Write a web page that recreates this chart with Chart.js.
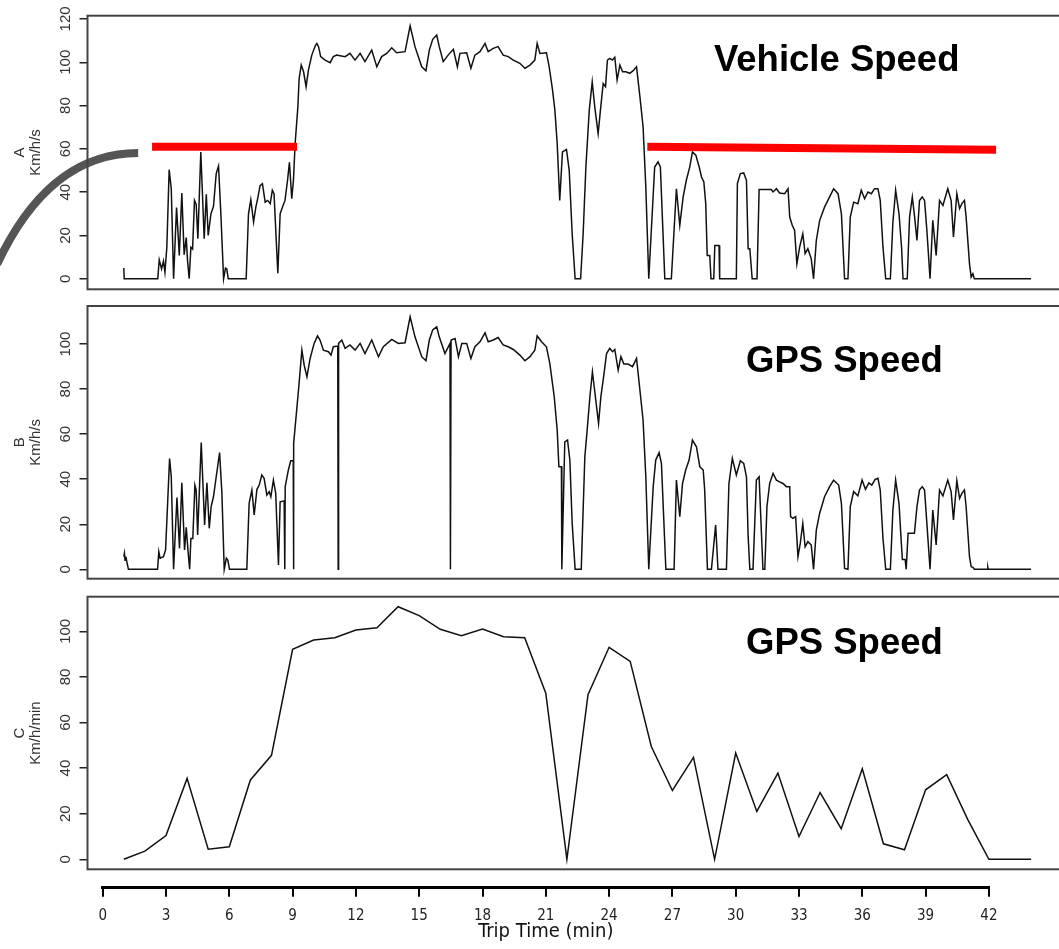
<!DOCTYPE html>
<html>
<head>
<meta charset="utf-8">
<title>Trip speed</title>
<script src="https://cdn.jsdelivr.net/npm/chart.js@4.4.1/dist/chart.umd.min.js"></script>
<style>
  html, body { margin: 0; padding: 0; background: #fff; overflow: hidden; width: 1059px; height: 949px; }
  canvas { position: absolute; left: 0; }
</style>
</head>
<body>
<canvas id="speedA" width="1080" height="310" style="top:0px"></canvas>
<canvas id="speedB" width="1080" height="315" style="top:285px"></canvas>
<canvas id="speedC" width="1080" height="315" style="top:575px"></canvas>
<canvas id="timeAxis" width="1080" height="79" style="top:870px"></canvas>
<script>
// A: vehicle speed, per second (minutes, km/h)
const vehicleTime = [
  1.00, 1.02, 2.61, 2.68, 2.79, 2.88, 2.95, 3.04, 3.15, 3.25, 3.36, 3.50, 3.63, 3.75, 3.86, 3.96, 4.02, 4.10,
  4.18, 4.26, 4.35, 4.43, 4.51, 4.65, 4.81, 4.91, 5.00, 5.13, 5.25, 5.38, 5.49, 5.60, 5.73, 5.82, 5.88, 5.95,
  6.80, 6.91, 7.02, 7.15, 7.26, 7.34, 7.46, 7.57, 7.70, 7.82, 7.94, 8.04, 8.12, 8.30, 8.41, 8.53, 8.64, 8.76,
  8.85, 8.96, 9.04, 9.12, 9.25, 9.31, 9.41, 9.52, 9.64, 9.75, 9.91, 10.07, 10.15, 10.23, 10.33, 10.54, 10.78,
  10.93, 11.09, 11.25, 11.49, 11.72, 11.96, 12.20, 12.43, 12.75, 12.99, 13.22, 13.46, 13.70, 13.93, 14.33,
  14.57, 14.80, 15.12, 15.32, 15.48, 15.64, 15.83, 15.95, 16.14, 16.37, 16.62, 16.81, 16.93, 17.25, 17.45,
  17.64, 17.88, 18.12, 18.27, 18.51, 18.74, 18.98, 19.22, 19.46, 19.77, 20.01, 20.25, 20.48, 20.59, 20.72,
  21.03, 21.16, 21.32, 21.43, 21.54, 21.66, 21.79, 21.98, 22.11, 22.25, 22.39, 22.65, 22.77, 22.90, 23.06,
  23.20, 23.32, 23.48, 23.59, 23.72, 23.83, 23.92, 24.03, 24.16, 24.27, 24.38, 24.51, 24.64, 24.79, 24.98,
  25.14, 25.30, 25.46, 25.61, 25.74, 25.88, 26.16, 26.32, 26.43, 26.64, 26.95, 27.19, 27.35, 27.51, 27.66,
  27.82, 27.95, 28.11, 28.27, 28.38, 28.49, 28.58, 28.65, 28.77, 28.83, 28.96, 29.01, 29.21, 29.24, 30.03,
  30.08, 30.22, 30.38, 30.51, 30.59, 30.67, 30.78, 31.01, 31.11, 31.69, 31.77, 31.93, 32.08, 32.32, 32.48,
  32.56, 32.68, 32.79, 32.90, 33.03, 33.18, 33.29, 33.42, 33.58, 33.69, 33.82, 33.98, 34.21, 34.45, 34.64,
  34.85, 35.01, 35.16, 35.32, 35.43, 35.59, 35.79, 35.95, 36.11, 36.27, 36.43, 36.58, 36.74, 36.85, 36.98,
  37.11, 37.33, 37.45, 37.58, 37.74, 37.86, 37.93, 38.13, 38.24, 38.37, 38.48, 38.59, 38.71, 38.84, 38.95,
  39.06, 39.21, 39.34, 39.50, 39.66, 39.82, 40.05, 40.21, 40.32, 40.48, 40.61, 40.72, 40.84, 40.92, 41.08,
  41.16, 41.24, 41.31, 44.00
];
const vehicleSpeed = [
  5, 0, 0, 8.8, 4.6, 8.2, 3, 14.6, 50.4, 41.6, 0, 32.9, 10.8, 39.6, 11.1, 19, 8.5, 0,
  14.6, 13.8, 36.2, 34.4, 18.5, 58.6, 18.5, 39, 20, 30, 33.4, 48.6, 52.1, 30, 0, 4.9, 4.6, 0,
  0, 30, 36.5, 26.2, 33.2, 36.8, 43, 43.9, 35.4, 36.2, 34.7, 40.9, 39.3, 2.6, 30, 33.4, 36.2, 45.5,
  53.8, 37, 45.5, 62.5, 79.4, 92.5, 98.7, 95.6, 88.7, 96.4, 103.3, 107.5, 108.7, 107.2, 102.6, 101, 99.8,
  102.6, 103.3, 103, 102.6, 104.1, 101, 104.1, 100.3, 105.6, 97.9, 102.6, 104.1, 106.7, 104.4, 104.9,
  116.8, 107.2, 97.9, 96.1, 105.6, 110.6, 112.6, 107.2, 100.3, 103.3, 106, 97.9, 104.1, 104.4, 97.2,
  103.3, 104.9, 108.7, 104.9, 106.4, 107.2, 103.3, 102.6, 101, 99.5, 97.2, 98.7, 101, 108.7, 104.1,
  104.4, 97.9, 87.1, 77.9, 62.5, 36.2, 58.6, 59.7, 50.1, 20.8, 0, 0, 20.8, 51.6, 77.9,
  91, 79.4, 67.1, 77.9, 90.2, 88.7, 101, 101.8, 101, 102.3, 91.8, 98.7, 95.6, 95.6, 94.9,
  96.1, 97.9, 84.1, 70.2, 42.4, 0, 51.6, 54, 51.6, 0, 0, 41.6, 24.7, 37.8, 45.5,
  51.6, 58.6, 57.1, 51.6, 47, 44.7, 34.7, 10.8, 10.8, 0, 0, 15.4, 15.4, 0, 0,
  44, 48.6, 48.9, 45.5, 13.9, 13.9, 0, 0, 41.2, 41.2, 40.1, 41.6, 39.6, 39.3, 41.6,
  28.5, 24.7, 22.4, 6.9, 14.6, 20.8, 11.6, 13.9, 9.2, 0, 17.7, 27, 33.1, 37.8, 41.6,
  39.3, 30, 0, 0, 28.5, 35.4, 34.7, 40.9, 37, 40.1, 39.3, 41.6, 41.6, 36.2, 14.6,
  0, 0, 26.2, 40.9, 30, 14.6, 0, 0, 28.5, 37.8, 28.5, 17.7, 36.2, 37.8, 36.2,
  22.4, 0, 27, 10.8, 36.2, 33.9, 41.6, 36.2, 19.3, 39.3, 32.4, 34.7, 36.2, 28.5, 6.9,
  0.8, 2.3, 0, 0
];

// B: GPS speed, per second
const gpsTime = [
  1.00, 1.03, 1.06, 1.10, 1.14, 1.22, 2.60, 2.66, 2.72, 2.88, 2.98, 3.17, 3.25, 3.36, 3.52, 3.64, 3.75, 3.88,
  3.96, 4.04, 4.12, 4.18, 4.27, 4.37, 4.43, 4.50, 4.67, 4.83, 4.94, 5.05, 5.14, 5.25, 5.38, 5.54, 5.65, 5.76,
  5.86, 5.93, 6.01, 6.83, 6.94, 7.07, 7.18, 7.31, 7.42, 7.54, 7.65, 7.78, 7.89, 7.97, 8.09, 8.20, 8.33, 8.41,
  8.60, 8.63, 8.65, 8.80, 8.91, 9.03, 9.04, 9.06, 9.28, 9.44, 9.55, 9.68, 9.83, 10.02, 10.18, 10.30, 10.46,
  10.70, 10.82, 10.93, 11.14, 11.16, 11.18, 11.33, 11.49, 11.72, 11.96, 12.20, 12.43, 12.75, 13.07, 13.30,
  13.70, 14.01, 14.33, 14.57, 14.80, 15.12, 15.32, 15.48, 15.64, 15.83, 15.95, 16.22, 16.46, 16.48, 16.51,
  16.70, 16.86, 17.02, 17.25, 17.45, 17.64, 17.88, 18.12, 18.27, 18.51, 18.74, 18.98, 19.22, 19.46, 19.77,
  20.01, 20.25, 20.48, 20.59, 20.80, 21.03, 21.19, 21.40, 21.54, 21.62, 21.74, 21.76, 21.90, 22.03, 22.14,
  22.25, 22.39, 22.68, 22.85, 22.96, 23.09, 23.21, 23.35, 23.50, 23.61, 23.75, 23.88, 24.03, 24.16, 24.27,
  24.43, 24.56, 24.70, 24.90, 25.11, 25.30, 25.46, 25.61, 25.74, 25.88, 26.09, 26.21, 26.37, 26.48, 26.69,
  27.08, 27.19, 27.35, 27.48, 27.63, 27.79, 27.95, 28.14, 28.30, 28.46, 28.53, 28.66, 28.85, 29.05, 29.16,
  29.56, 29.68, 29.84, 30.03, 30.22, 30.38, 30.51, 30.59, 30.67, 30.82, 30.98, 31.11, 31.29, 31.38, 31.48,
  31.61, 31.77, 31.93, 32.08, 32.24, 32.40, 32.56, 32.60, 32.71, 32.84, 32.95, 33.06, 33.18, 33.29, 33.42,
  33.58, 33.69, 33.82, 33.98, 34.21, 34.45, 34.64, 34.88, 35.01, 35.16, 35.32, 35.43, 35.59, 35.79, 35.99,
  36.15, 36.31, 36.45, 36.61, 36.74, 36.85, 36.98, 37.11, 37.33, 37.45, 37.58, 37.74, 37.85, 37.90, 38.03,
  38.08, 38.17, 38.47, 38.59, 38.71, 38.84, 38.95, 39.06, 39.21, 39.34, 39.50, 39.66, 39.82, 40.05, 40.21,
  40.32, 40.48, 40.61, 40.72, 40.84, 40.92, 41.08, 41.16, 41.24, 41.31, 41.93, 41.95, 41.97, 44.00
];
const gpsSpeed = [
  5.6, 7.1, 4.0, 5.6, 3.5, 0, 0, 7.8, 4.9, 5.6, 8.6, 49.2, 41.1, 0, 31.9, 9.3, 38.4, 8.6,
  18.6, 8.6, 0, 13.7, 13.7, 37.4, 35.2, 15.2, 56.3, 19.7, 38.4, 18.2, 27.8, 32.2, 41.1, 51.8, 33.7, 0,
  4.9, 4.1, 0, 0, 29.3, 35.2, 24.1, 35.5, 37.4, 41.9, 40.4, 33, 34.5, 32.2, 39.6, 33.7, 1.9, 30,
  30.4, 0, 36.7, 44.1, 48.2, 48.2, 0, 55.9, 79.6, 97.3, 90.6, 85.5, 93.6, 100.3, 103.6, 101.8, 97.3,
  96.6, 95.1, 98.8, 99.1, 0, 100.3, 101.8, 98.1, 99.6, 97.3, 100.3, 95.8, 101.8, 94.4, 98.8,
  102.1, 100.3, 100.6, 112.1, 103.2, 94.4, 92.6, 101.8, 106.3, 107.7, 103.2, 95.8, 100.3, 0, 101.8,
  102.5, 94.4, 100.3, 100.3, 93.6, 98.8, 101, 105, 101, 101.8, 102.9, 99.6, 98.8, 97.6, 95.1,
  92.6, 94.4, 97.3, 103.6, 101, 98.8, 91.4, 76.6, 61.8, 45.5, 45.5, 0, 56.6, 57.4, 48.5,
  20.4, 0, 0, 50, 61.8, 76.6, 87.7, 76.6, 64.8, 76.6, 86.2, 95.8, 98.1, 96.6, 97.6,
  88.4, 94.4, 91.1, 91.1, 90, 93.6, 79.6, 66.3, 41.1, 0, 36.7, 48.5, 51.8, 47, 0,
  0, 39.6, 23.4, 38.1, 44.1, 48.5, 57.4, 54.4, 45.5, 44.1, 35.2, 0, 0, 19.7, 0,
  0, 38.1, 49.3, 41.9, 48.2, 47, 41.1, 14.5, 0, 0, 39.6, 41.1, 0, 0, 27.8,
  38.1, 42.6, 39.6, 38.8, 38.1, 36.7, 36.7, 23.4, 22.6, 23.4, 5.6, 11.5, 20.4, 10, 12.3,
  10.8, 0, 17.4, 24.9, 32.2, 36.7, 39.6, 37.4, 29.3, 0.4, 0, 27.8, 34.5, 32.6, 39.6,
  35.5, 38.4, 37.4, 39.9, 40.4, 35.2, 13.7, 0, 0, 26.3, 39.6, 29.3, 11.5, 4.4, 4.4,
  0, 16, 16, 27.8, 35.2, 36.7, 35.2, 20.4, 0, 26.3, 10.8, 35.2, 32.6, 39.6, 34.5,
  21.9, 39.3, 31.5, 33.7, 35.2, 27.8, 5.6, 1.2, 0.9, 0, 0, 0.9, 0, 0
];

// C: GPS speed, one value per minute
const minuteTime = [
  1, 2, 3, 4, 5, 6, 7, 8, 9, 10, 11, 12, 13, 14, 15, 16, 17, 18, 19, 20, 21, 22,
  23, 24, 25, 26, 27, 28, 29, 30, 31, 32, 33, 34, 35, 36, 37, 38, 39, 40, 41, 42, 43, 44
];
const minuteSpeed = [
  0, 3.6, 10.4, 35.5, 4.4, 5.5, 34.8, 45.6, 92.1, 96.2, 97.2, 100.6, 101.6, 110.8, 106.9, 100.9, 98.1, 101, 97.6, 97.2, 72.9, 0,
  72.2, 93, 86.8, 49.5, 30.2, 44.7, 0, 46.6, 21, 37.8, 10, 29.3, 13.4, 39.7, 6.8, 4.2, 30.5, 37.1, 17.4, 0, 0, 0
];

// red reference bars drawn over panel A
const barLeftTime = [2.34, 9.21];
const barLeftLevel = [61, 61];
const barRightTime = [25.81, 42.34];
const barRightLevel = [61, 59.6];

const ticksA = [0, 20, 40, 60, 80, 100, 120];
const ticksBC = [0, 20, 40, 60, 80, 100];
const timeTicks = [0, 3, 6, 9, 12, 15, 18, 21, 24, 27, 30, 33, 36, 39, 42];

const sans = "'Liberation Sans', Arial, Helvetica, sans-serif";
const narrow = "'Liberation Sans Narrow', 'DejaVu Sans Condensed', 'Liberation Sans', sans-serif";

const pts = (xs, ys) => xs.map((v, i) => ({ x: v, y: ys[i] }));

// box around each panel's plotting region
const frameBox = {
  id: 'frameBox',
  afterDraw(chart) {
    const { ctx, chartArea: a } = chart;
    ctx.save();
    ctx.strokeStyle = '#444';
    ctx.lineWidth = 2;
    ctx.strokeRect(a.left, a.top, a.right - a.left, a.bottom - a.top);
    ctx.restore();
  }
};

// bold label inside a panel, anchored at (minute, speed)
const panelTitle = {
  id: 'panelTitle',
  afterDatasetsDraw(chart, args, opts) {
    const { ctx, scales: { x, y } } = chart;
    ctx.save();
    ctx.font = 'bold 36.5px ' + sans;
    ctx.fillStyle = '#000';
    ctx.textAlign = 'left';
    ctx.textBaseline = 'alphabetic';
    ctx.fillText(opts.text, x.getPixelForValue(opts.at[0]), y.getPixelForValue(opts.at[1]));
    ctx.restore();
  }
};

// grey curved pointer leading into panel A
const pointer = {
  id: 'pointer',
  afterDatasetsDraw(chart) {
    const { ctx, scales: { x, y } } = chart;
    const from = [-5.0, 6.8], bend = [-2.54, 58.1], to = [1.68, 58.1];
    ctx.save();
    ctx.strokeStyle = '#555';
    ctx.lineWidth = 8;
    ctx.beginPath();
    ctx.moveTo(x.getPixelForValue(from[0]), y.getPixelForValue(from[1]));
    ctx.quadraticCurveTo(x.getPixelForValue(bend[0]), y.getPixelForValue(bend[1]),
      x.getPixelForValue(to[0]), y.getPixelForValue(to[1]));
    ctx.stroke();
    ctx.restore();
  }
};

function speedAxis(min, max, ticks, title) {
  return {
    min: min,
    max: max,
    afterBuildTicks: s => { s.ticks = ticks.map(v => ({ value: v })); },
    afterFit: s => { s.width = 87.5; },
    border: { display: false },
    grid: { drawOnChartArea: false, drawTicks: true, tickLength: 8, color: '#222', lineWidth: 1.5 },
    ticks: { minRotation: 90, maxRotation: 90, crossAlign: 'center', padding: 1, color: '#333', font: { family: sans, size: 15 } },
    title: { display: true, text: title, color: '#333', font: { family: sans, size: 15, lineHeight: '16px' }, padding: { top: 12, bottom: 0 } }
  };
}

function trace(data) {
  return { data: data, borderColor: '#111', borderWidth: 1.5, pointRadius: 0, tension: 0, fill: false };
}

function panel(id, datasets, yAxis, padTop, padBottom, label, extra) {
  return new Chart(document.getElementById(id), {
    type: 'line',
    data: { datasets: datasets },
    options: {
      animation: false,
      responsive: false,
      events: [],
      layout: { padding: { left: 0, right: 12.6, top: padTop, bottom: padBottom } },
      plugins: { legend: { display: false }, tooltip: { enabled: false }, panelTitle: label },
      scales: {
        x: { type: 'linear', display: false, min: -0.72, max: 45.72 },
        y: yAxis
      }
    },
    plugins: [frameBox, panelTitle].concat(extra || [])
  });
}

panel('speedA', [
  { data: pts(barLeftTime, barLeftLevel), borderColor: '#ff0000', borderWidth: 8, pointRadius: 0 },
  { data: pts(barRightTime, barRightLevel), borderColor: '#ff0000', borderWidth: 8, pointRadius: 0 },
  trace(pts(vehicleTime, vehicleSpeed))
], speedAxis(-4.85, 121.5, ticksA, ['A', 'Km/h/s']), 15.7, 20.7,
  { text: 'Vehicle Speed', at: [28.97, 96.1] }, [pointer]);

panel('speedB', [trace(pts(gpsTime, gpsSpeed))],
  speedAxis(-4.17, 116.9, ticksBC, ['B', 'Km/h/s']), 21, 21.3,
  { text: 'GPS Speed', at: [30.49, 87.7] });

panel('speedC', [trace(pts(minuteTime, minuteSpeed))],
  speedAxis(-4.39, 115.2, ticksBC, ['C', 'Km/h/min']), 21.7, 20.7,
  { text: 'GPS Speed', at: [30.49, 90.0] });

// shared time axis under the three panels
new Chart(document.getElementById('timeAxis'), {
  type: 'line',
  data: { datasets: [] },
  options: {
    animation: false,
    responsive: false,
    events: [],
    layout: { padding: { left: 102.7, right: 91.1, top: 0, bottom: 0 } },
    plugins: { legend: { display: false }, tooltip: { enabled: false } },
    scales: {
      x: {
        type: 'linear', min: 0, max: 42,
        afterBuildTicks: s => { s.ticks = timeTicks.map(v => ({ value: v })); },
        afterFit: s => { s.height = 61.3; },
        border: { display: true, color: '#000', width: 3 },
        grid: { drawOnChartArea: false, drawTicks: true, tickLength: 9, color: '#000', lineWidth: 2 },
        ticks: { autoSkip: false, maxRotation: 0, padding: 10, color: '#222', font: { family: narrow, size: 15 } },
        title: { display: true, text: 'Trip Time (min)', color: '#111', font: { family: narrow, size: 20 }, padding: { top: 0, bottom: 5 } }
      },
      y: { display: false, min: 0, max: 1 }
    }
  }
});
</script>
</body>
</html>
